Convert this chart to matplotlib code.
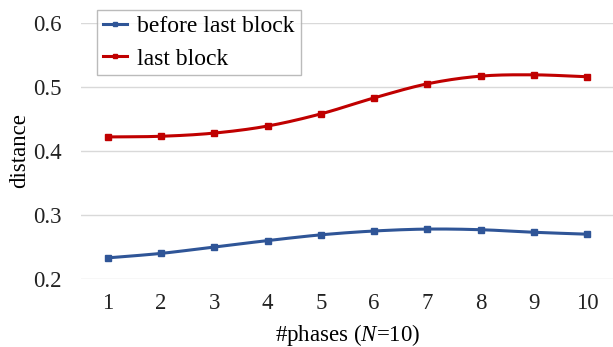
import numpy as np
import matplotlib
matplotlib.use("Agg")
import matplotlib.pyplot as plt

phases = [1, 2, 3, 4, 5, 6, 7, 8, 9, 10]
before_last_block = [0.233, 0.240, 0.250, 0.260, 0.269, 0.275, 0.278, 0.277, 0.273, 0.270]
last_block = [0.422, 0.423, 0.428, 0.439, 0.458, 0.483, 0.505, 0.517, 0.519, 0.516]
yticks = [0.2, 0.3, 0.4, 0.5, 0.6]

plt.rcParams['font.family'] = ['Liberation Serif', 'DejaVu Serif']
plt.rcParams['mathtext.fontset'] = 'custom'
plt.rcParams['mathtext.rm'] = 'Liberation Serif'
plt.rcParams['mathtext.it'] = 'Liberation Serif:italic'


def smooth(x, y, n=20):
    x = np.asarray(x, float)
    y = np.asarray(y, float)
    px = np.concatenate([[2 * x[0] - x[1]], x, [2 * x[-1] - x[-2]]])
    py = np.concatenate([[2 * y[0] - y[1]], y, [2 * y[-1] - y[-2]]])
    xs, ys = [], []
    t = np.linspace(0, 1, n, endpoint=False)
    for i in range(1, len(px) - 2):
        p0, p1, p2, p3 = py[i - 1], py[i], py[i + 1], py[i + 2]
        q0, q1, q2, q3 = px[i - 1], px[i], px[i + 1], px[i + 2]
        ys.append(0.5 * ((2 * p1) + (-p0 + p2) * t + (2 * p0 - 5 * p1 + 4 * p2 - p3) * t**2 + (-p0 + 3 * p1 - 3 * p2 + p3) * t**3))
        xs.append(0.5 * ((2 * q1) + (-q0 + q2) * t + (2 * q0 - 5 * q1 + 4 * q2 - q3) * t**2 + (-q0 + 3 * q1 - 3 * q2 + q3) * t**3))
    xs.append([x[-1]])
    ys.append([y[-1]])
    return np.concatenate(xs), np.concatenate(ys)


fig = plt.figure(figsize=(6.13, 3.47), dpi=100)
ax = fig.add_axes([81 / 613, 1 - 279 / 347, 533 / 613, 256 / 347])

blue = '#2F5597'
red = '#C00000'
FS = 16.5
for vals, col, lab in [(before_last_block, blue, 'before last block'), (last_block, red, 'last block')]:
    sx, sy = smooth(phases, vals)
    ax.plot(sx, sy, color=col, lw=2.2, solid_capstyle='round')
    ax.plot(phases, vals, ls='none', marker='s', ms=5, color=col)
    ax.plot([], [], color=col, lw=2.2, marker='s', ms=3.5, label=lab)

ax.set_xlim(0.5, 10.5)
ax.set_ylim(0.2, 0.6)
ax.set_yticks(yticks)
ax.set_yticklabels([f'{v:.1f}' for v in yticks])
ax.set_xticks(phases)
ax.grid(axis='y', color='#D9D9D9', lw=1)
ax.set_axisbelow(True)
for s in ax.spines.values():
    s.set_visible(False)
ax.tick_params(length=0, labelsize=FS, colors='#222222')
ax.tick_params(axis='y', pad=14)
ax.tick_params(axis='x', pad=10)
ax.set_ylabel('distance', fontsize=FS)
ax.set_xlabel('#phases ($\\it{N}$=10)', fontsize=FS, labelpad=6)
ax.yaxis.set_label_coords(-51 / 533, 0.5)

handles, labels = ax.get_legend_handles_labels()
leg = ax.legend(handles[:2], labels[:2], loc='upper left', bbox_to_anchor=(16 / 533, 1 + 13 / 256),
                fontsize=17, frameon=True, fancybox=False, edgecolor='#AAAAAA',
                handlelength=1.0, handletextpad=0.45, borderpad=0.25, labelspacing=0.45,
                borderaxespad=0)
leg.get_frame().set_linewidth(1.0)

fig.savefig('out.png', dpi=100)
